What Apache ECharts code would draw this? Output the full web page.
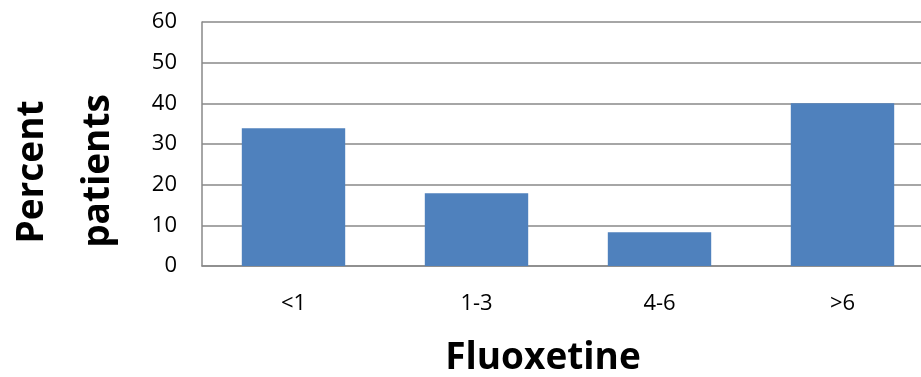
<!DOCTYPE html>
<html>
<head>
<meta charset="utf-8">
<script src="https://cdn.jsdelivr.net/npm/echarts@6/dist/echarts.min.js"></script>
<style>
  html, body { margin: 0; padding: 0; background: #fff; }
  #chart { width: 921px; height: 377px; }
</style>
</head>
<body>
<div id="chart"></div>
<script>
const categories = ['<1', '1-3', '4-6', '>6']
const percentPatients = [33.9, 17.9, 8.3, 40]
const yTicks = { min: 0, max: 60, interval: 10 }

const chart = echarts.init(document.getElementById('chart'))

const gridColor = '#898989'
const font = '"Open Sans", sans-serif'

// plot area runs past the right edge of the picture, like the original
const option = {
  animation: false,
  grid: { left: 202, top: 22, width: 732, bottom: 111, outerBoundsMode: 'none' },
  xAxis: {
    type: 'category',
    data: categories,
    axisTick: { show: false },
    axisLine: { lineStyle: { color: gridColor, width: 1.5 } },
    axisLabel: { color: '#000', fontSize: 22, fontFamily: font, margin: 27 }
  },
  yAxis: {
    type: 'value',
    min: yTicks.min,
    max: yTicks.max,
    interval: yTicks.interval,
    axisLine: { show: true, lineStyle: { color: gridColor, width: 1.5 } },
    axisTick: { show: false },
    splitLine: { lineStyle: { color: gridColor, width: 1.5 } },
    axisLabel: { color: '#000', fontSize: 22, fontFamily: font, margin: 25 }
  },
  series: [
    {
      type: 'bar',
      data: percentPatients,
      barCategoryGap: '43.5%',
      itemStyle: { color: '#4f81bd' }
    }
  ],
  graphic: [
    {
      type: 'text',
      x: 543, y: 358,
      style: { text: 'Fluoxetine', font: 'bold 37px ' + font, fill: '#000', align: 'center', verticalAlign: 'middle' }
    },
    {
      type: 'text',
      x: 32, y: 172,
      rotation: Math.PI / 2,
      style: { text: 'Percent', font: 'bold 37px ' + font, fill: '#000', align: 'center', verticalAlign: 'middle' }
    },
    {
      type: 'text',
      x: 98, y: 171,
      rotation: Math.PI / 2,
      style: { text: 'patients', font: 'bold 37px ' + font, fill: '#000', align: 'center', verticalAlign: 'middle' }
    }
  ]
}

chart.setOption(option)
</script>
</body>
</html>
